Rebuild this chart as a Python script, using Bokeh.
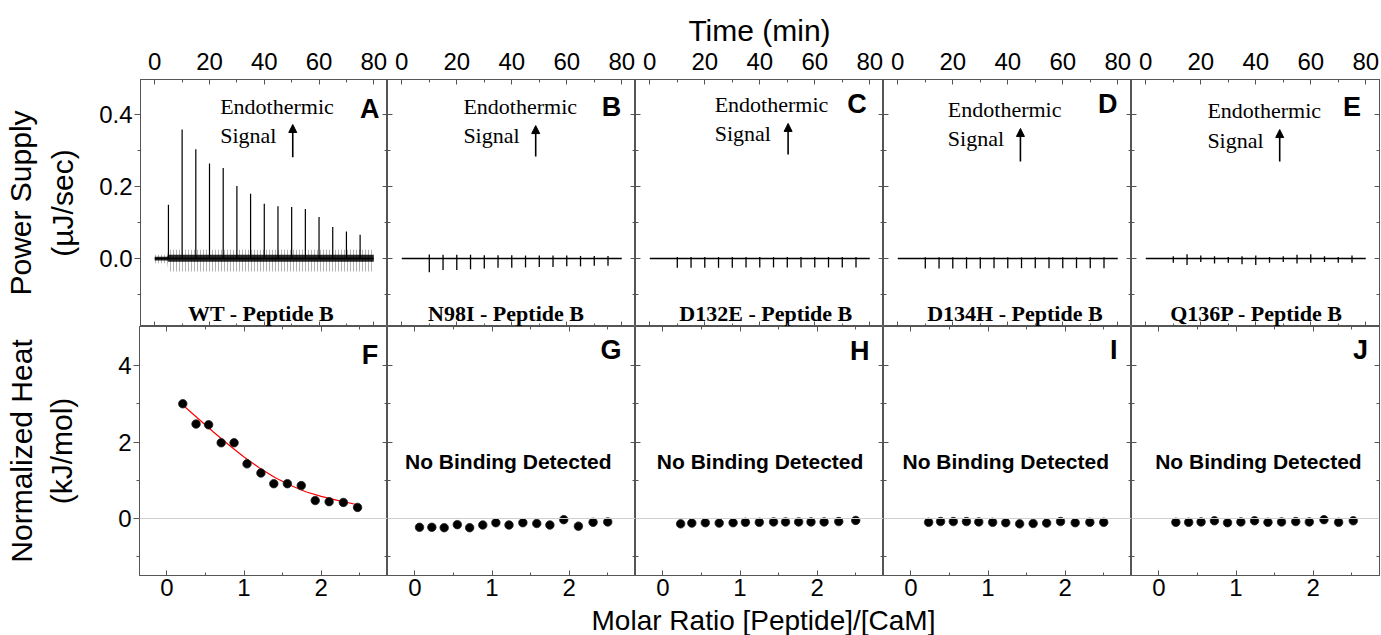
from bokeh.plotting import figure
from bokeh.layouts import row, column
from bokeh.models import (Range1d, LinearAxis, FixedTicker, Arrow,
                          NormalHead, Span, NumeralTickFormatter)
from bokeh.core.properties import value
from bokeh.embed import file_html
from bokeh.resources import INLINE

# ---------------- data ----------------
sample_names = ["WT - Peptide B", "N98I - Peptide B", "D132E - Peptide B",
                "D134H - Peptide B", "Q136P - Peptide B"]
letters_top = ["A", "B", "C", "D", "E"]
letters_bottom = ["F", "G", "H", "I", "J"]

time_ticks = [0, 20, 40, 60, 80]
time_minor = [10, 30, 50, 70]
power_ticks = [0.0, 0.2, 0.4]
power_minor = [-0.1, 0.1, 0.3]
ratio_ticks = [0, 1, 2]
ratio_minor = [0.5, 1.5, 2.5]
heat_ticks = [0, 2, 4]
heat_minor = [-1, 1, 3]

trace_time = [0, 80]
trace_base = [0.0, 0.0]

# WT thermogram: injection peaks and baseline noise envelope
inj_A = [5, 10, 15, 20, 25, 30, 35, 40, 45, 50, 55, 60, 65, 70, 75]
peak_A = [0.149, 0.358, 0.303, 0.264, 0.251, 0.201, 0.180, 0.152, 0.145,
          0.143, 0.137, 0.115, 0.087, 0.075, 0.066]
noise_t_A = [0, 4.6, 5.0, 80]
noise_core_hi_A = [0.005, 0.005, 0.010, 0.010]
noise_core_lo_A = [-0.006, -0.006, -0.009, -0.009]
noise_hi_A = [0.010, 0.010, 0.024, 0.024]
noise_lo_A = [-0.013, -0.013, -0.036, -0.036]

# mutant thermograms: small injection artefacts
inj_BE = [10, 15, 20, 25, 30, 35, 40, 45, 50, 55, 60, 65, 70, 75]
dip_B = [-0.038, -0.032, -0.032, -0.030, -0.028, -0.026, -0.026, -0.025,
         -0.024, -0.024, -0.022, -0.022, -0.020, -0.020]
bump_B = [0.011, 0.010, 0.010, 0.010, 0.009, 0.009, 0.009, 0.008, 0.008,
          0.008, 0.008, 0.007, 0.007, 0.007]
dip_C = [-0.026, -0.026, -0.026, -0.026, -0.026, -0.025, -0.025, -0.025,
         -0.025, -0.025, -0.025, -0.025, -0.025, -0.025]
bump_C = [0.004] * 14
dip_D = [-0.028, -0.028, -0.028, -0.028, -0.028, -0.027, -0.027, -0.027,
         -0.027, -0.027, -0.027, -0.027, -0.027, -0.027]
bump_D = [0.003] * 14
dip_E = [-0.012, -0.018, -0.010, -0.014, -0.012, -0.016, -0.018, -0.012,
         -0.010, -0.014, -0.012, -0.010, -0.012, -0.012]
bump_E = [0.006, 0.012, 0.008, 0.006, 0.004, 0.006, 0.008, 0.004, 0.006,
          0.010, 0.012, 0.006, 0.004, 0.008]
dips = [None, dip_B, dip_C, dip_D, dip_E]
bumps = [None, bump_B, bump_C, bump_D, bump_E]

# integrated heats
ratio_F = [0.206, 0.378, 0.541, 0.704, 0.871, 1.039, 1.219, 1.386, 1.562,
           1.742, 1.923, 2.103, 2.288, 2.472]
heat_F = [3.00, 2.47, 2.45, 1.98, 1.98, 1.43, 1.19, 0.91, 0.91, 0.86, 0.47,
          0.44, 0.42, 0.29]
fit_ratio_F = [0.21, 0.4, 0.6, 0.8, 1.0, 1.2, 1.4, 1.6, 1.8, 2.0, 2.2, 2.47]
fit_heat_F = [2.96, 2.62, 2.27, 1.93, 1.61, 1.32, 1.07, 0.87, 0.70, 0.58,
              0.48, 0.36]
ratio_G = [0.06, 0.22, 0.38, 0.55, 0.71, 0.88, 1.05, 1.22, 1.40, 1.58, 1.75,
           1.93, 2.12, 2.31, 2.50]
heat_G = [-0.23, -0.23, -0.24, -0.16, -0.24, -0.17, -0.11, -0.17, -0.11,
          -0.13, -0.17, -0.03, -0.20, -0.10, -0.09]
ratio_H = [0.23, 0.375, 0.55, 0.73, 0.91, 1.07, 1.25, 1.435, 1.59, 1.76,
           1.92, 2.09, 2.28, 2.50]
heat_H = [-0.14, -0.12, -0.11, -0.12, -0.11, -0.10, -0.10, -0.09, -0.09,
          -0.09, -0.09, -0.09, -0.08, -0.05]
ratio_I = [0.23, 0.385, 0.55, 0.72, 0.88, 1.06, 1.23, 1.41, 1.585, 1.76,
           1.94, 2.13, 2.32, 2.50]
heat_I = [-0.10, -0.08, -0.08, -0.08, -0.09, -0.10, -0.11, -0.14, -0.13,
          -0.12, -0.08, -0.11, -0.10, -0.10]
ratio_J = [0.22, 0.386, 0.547, 0.72, 0.89, 1.063, 1.24, 1.414, 1.59, 1.774,
           1.95, 2.14, 2.33, 2.52]
heat_J = [-0.10, -0.10, -0.09, -0.06, -0.11, -0.09, -0.06, -0.10, -0.09,
          -0.08, -0.09, -0.03, -0.10, -0.06]
ratios = [ratio_F, ratio_G, ratio_H, ratio_I, ratio_J]
heats = [heat_F, heat_G, heat_H, heat_I, heat_J]

# ---------------- annotation placement (baselines, data units) ----------------
endo_x = [23.9, 22.4, 23.6, 18.2, 22.4]
endo_y = [0.403, 0.403, 0.408, 0.394, 0.392]
signal_y = [0.322, 0.322, 0.328, 0.314, 0.308]
arrow_x = [50.4, 48.7, 50.3, 44.6, 48.7]
arrow_y0 = [0.281, 0.283, 0.289, 0.269, 0.269]
arrow_y1 = [0.372, 0.369, 0.375, 0.361, 0.358]
letter_top_x = [82.1, 79.8, 78.9, 79.9, 78.3]
letter_top_y = [0.389, 0.397, 0.403, 0.403, 0.397]
name_x = [38.8, 37.9, 42.2, 42.6, 40.3]
name_y = -0.172
letter_bot_x = [2.74, 2.68, 2.68, 2.68, 2.71]
letter_bot_y = [4.04, 4.16, 4.15, 4.18, 4.18]
nobind_x = [None, 1.21, 1.26, 1.23, 1.29]
nobind_y = 1.30

# ---------------- layout ----------------
FW = 248
FH_TOP = 247
FH_BOT = 249
LEFT = 139
TOP = 79
BOTTOM = 30
STRIP_H = 30
RIGHT_LAST = 2
TOTAL_W = LEFT + 5 * FW + RIGHT_LAST
FRAME = "#555555"
SANS = "Liberation Sans"
SERIF = "Liberation Serif"
TOP_PX_PER_UNIT = FH_TOP / (0.497 + 0.189)
BOT_PX_PER_UNIT = FH_BOT / (5.02 + 1.49)
BASE_FIX = 0.33  # em: renderer places alphabetic baseline slightly low


def fix(size_px, px_per_unit):
    return BASE_FIX * size_px / px_per_unit


def add_axis(p, side, ticks, minor, labels=False, tin=5, tout=0,
             standoff=0, fmt=None, title=None, title_standoff=0,
             line=True):
    ax = LinearAxis(ticker=FixedTicker(ticks=ticks, minor_ticks=minor))
    ax.axis_line_color = FRAME if line else None
    ax.major_tick_line_color = FRAME
    ax.minor_tick_line_color = FRAME
    ax.major_tick_in = tin
    ax.major_tick_out = tout
    ax.minor_tick_in = 3 if tin else 0
    ax.minor_tick_out = 3 if tout else 0
    if labels:
        ax.major_label_text_font = SANS
        ax.major_label_text_font_size = "24px"
        ax.major_label_text_color = "black"
        ax.major_label_standoff = standoff
        if fmt is not None:
            ax.formatter = fmt
    else:
        ax.major_label_text_font_size = "0px"
        ax.major_label_text_color = None
        ax.major_label_standoff = 0
    if title is not None:
        ax.axis_label = title
        ax.axis_label_text_font = SANS
        ax.axis_label_text_font_size = "30px"
        ax.axis_label_text_font_style = "normal"
        ax.axis_label_text_color = "black"
        ax.axis_label_standoff = title_standoff
    p.add_layout(ax, side)
    return ax


def make_fig(col, rw):
    w = FW + (LEFT if col == 0 else 0) + (RIGHT_LAST if col == 4 else 0)
    if rw == 0:
        h = TOP + FH_TOP
        xr = Range1d(-5.2, 85.0)
        yr = Range1d(-0.189, 0.497)
    else:
        h = FH_BOT + BOTTOM
        xr = Range1d(-0.355, 2.86)
        yr = Range1d(-1.49, 5.02)
    p = figure(width=w, height=h, x_range=xr, y_range=yr, title=None,
               output_backend="svg", toolbar_location=None, tools="",
               x_axis_location=None, y_axis_location=None,
               min_border=0,
               min_border_left=LEFT if col == 0 else 0,
               min_border_right=RIGHT_LAST if col == 4 else 0,
               min_border_top=TOP if rw == 0 else 0,
               min_border_bottom=BOTTOM if rw == 1 else 0)
    p.grid.visible = False
    p.outline_line_color = FRAME
    p.background_fill_color = "white"
    p.border_fill_color = "white"
    if rw == 0:
        xt, xm, yt, ym = time_ticks, time_minor, power_ticks, power_minor
        yfmt = NumeralTickFormatter(format="0.0")
        add_axis(p, "above", xt, xm, labels=True, tin=5, standoff=10,
                 title="Time (min)" if col == 2 else None, title_standoff=3)
        add_axis(p, "below", xt, xm)
    else:
        xt, xm, yt, ym = ratio_ticks, ratio_minor, heat_ticks, heat_minor
        yfmt = None
        add_axis(p, "above", xt, xm)
        add_axis(p, "below", xt, xm, labels=True, tin=5, standoff=3)
    if col == 0:
        if rw == 0:
            add_axis(p, "left", yt, ym, labels=True, tin=0, tout=6,
                     standoff=2, fmt=yfmt, title="(µJ/sec)",
                     title_standoff=17)
            add_axis(p, "left", [], [], tin=0, tout=0, line=False,
                     title="Power Supply", title_standoff=7)
        else:
            add_axis(p, "left", yt, ym, labels=True, tin=0, tout=6,
                     standoff=2, title="(kJ/mol)", title_standoff=37)
            add_axis(p, "left", [], [], tin=0, tout=0, line=False,
                     title="Normalized Heat", title_standoff=5)
    else:
        add_axis(p, "left", yt, ym)
    add_axis(p, "right", yt, ym)
    return p


top_figs = []
bottom_figs = []

for i in range(5):
    p = make_fig(i, 0)
    if i == 0:
        p.varea(x=noise_t_A, y1=noise_lo_A, y2=noise_hi_A, fill_alpha=0.0,
                hatch_pattern="vertical_line", hatch_color="#555555",
                hatch_scale=3, hatch_weight=1, hatch_alpha=0.45)
        p.varea(x=noise_t_A, y1=noise_core_lo_A, y2=noise_core_hi_A,
                fill_color="black", fill_alpha=0.85)
        p.segment(x0=inj_A, y0=[0.0] * len(inj_A), x1=inj_A, y1=peak_A,
                  line_color="black", line_width=1.2)
    else:
        p.segment(x0=inj_BE, y0=dips[i], x1=inj_BE, y1=bumps[i],
                  line_color="black", line_width=1.3)
    p.line(trace_time, trace_base, line_color="black", line_width=1.6)

    f22 = fix(22, TOP_PX_PER_UNIT)
    f27 = fix(27, TOP_PX_PER_UNIT)
    p.text(x=[endo_x[i]], y=[endo_y[i] + f22], text=["Endothermic"],
           text_font=value(SERIF), text_font_size="22px", text_color="black",
           text_align="left", text_baseline="alphabetic")
    p.text(x=[endo_x[i]], y=[signal_y[i] + f22], text=["Signal"],
           text_font=value(SERIF), text_font_size="22px", text_color="black",
           text_align="left", text_baseline="alphabetic")
    p.add_layout(Arrow(end=NormalHead(size=8, fill_color="black",
                                      line_color="black", line_width=1),
                       x_start=arrow_x[i], y_start=arrow_y0[i],
                       x_end=arrow_x[i], y_end=arrow_y1[i],
                       line_color="black", line_width=1.6))
    p.text(x=[letter_top_x[i]], y=[letter_top_y[i] + f27],
           text=[letters_top[i]],
           text_font=value(SANS), text_font_size="27px",
           text_font_style="bold", text_color="black",
           text_align="right", text_baseline="alphabetic")
    p.text(x=[name_x[i]], y=[name_y + f22], text=[sample_names[i]],
           text_font=value(SERIF), text_font_size="22px",
           text_font_style="bold", text_color="black",
           text_align="center", text_baseline="alphabetic")
    top_figs.append(p)

for i in range(5):
    p = make_fig(i, 1)
    p.add_layout(Span(location=0, dimension="width", line_color="#d0d0d0",
                      line_width=1))
    if i == 0:
        p.line(fit_ratio_F, fit_heat_F, line_color="red", line_width=1.2)
    p.scatter(ratios[i], heats[i], size=8.5, fill_color="black",
              line_color="#222222", line_width=0.8)
    f21 = fix(21, BOT_PX_PER_UNIT)
    f27 = fix(27, BOT_PX_PER_UNIT)
    if i > 0:
        p.text(x=[nobind_x[i]], y=[nobind_y + f21],
               text=["No Binding Detected"],
               text_font=value(SANS), text_font_size="21px",
               text_font_style="bold", text_color="black",
               text_align="center", text_baseline="alphabetic")
    p.text(x=[letter_bot_x[i]], y=[letter_bot_y[i] + f27],
           text=[letters_bottom[i]],
           text_font=value(SANS), text_font_size="27px",
           text_font_style="bold", text_color="black",
           text_align="right", text_baseline="alphabetic")
    bottom_figs.append(p)

# strip carrying the shared bottom axis title
strip = figure(width=TOTAL_W, height=STRIP_H, x_range=Range1d(0, TOTAL_W),
               y_range=Range1d(0, STRIP_H), title=None, output_backend="svg",
               toolbar_location=None, tools="", x_axis_location=None,
               y_axis_location=None, min_border=0)
strip.grid.visible = False
strip.outline_line_color = None
strip.border_fill_color = "white"
strip.text(x=[763], y=[0], text=["Molar Ratio [Peptide]/[CaM]"],
           text_font=value(SANS), text_font_size="28px", text_color="black",
           text_align="center", text_baseline="bottom")

layout = column(row(*top_figs), row(*bottom_figs), strip)

open("out.html", "w").write(file_html(layout, INLINE))
